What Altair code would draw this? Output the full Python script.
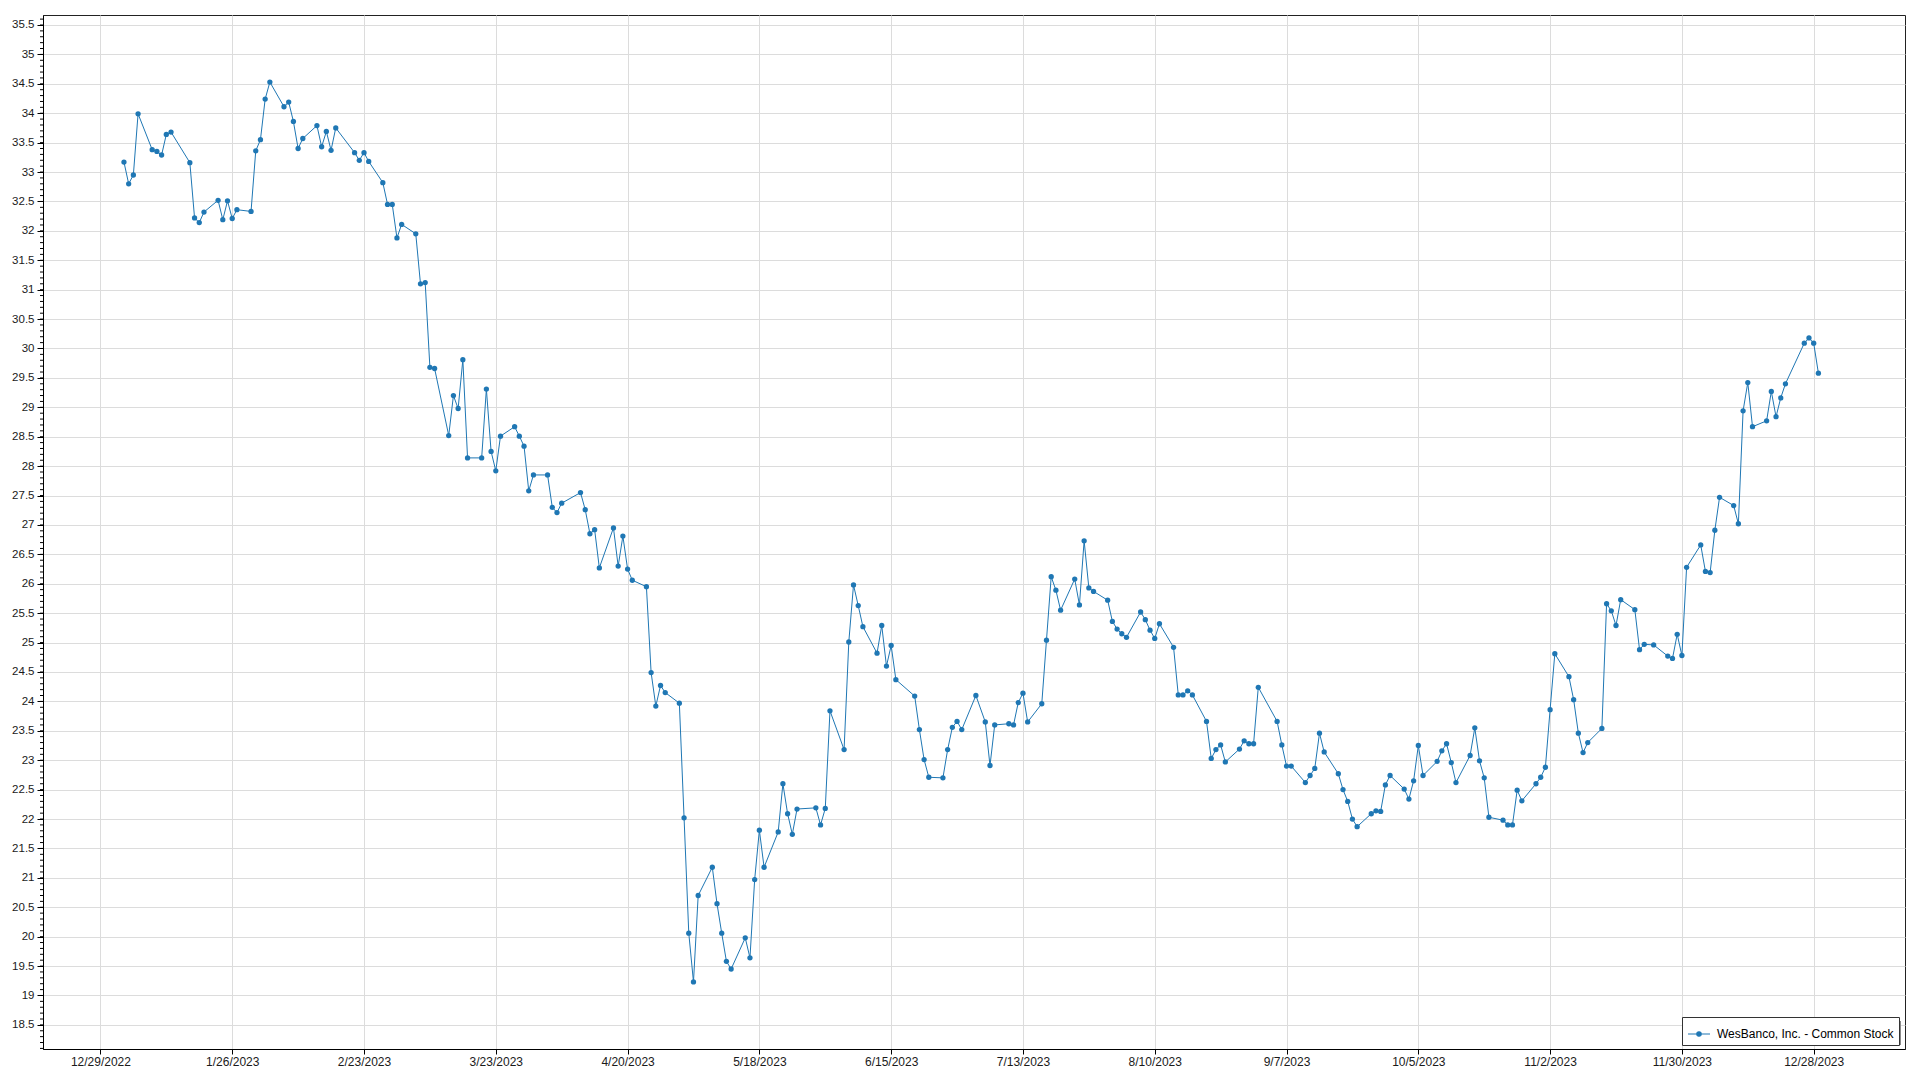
import altair as alt
import pandas as pd
import numpy as np

SERIES = "WesBanco, Inc. - Common Stock"
COLOR = "#1f77b4"
FONT = "Segoe UI, Liberation Sans, Arial, sans-serif"

# Exchange holidays (non-trading weekdays) in 2023
holidays = ["2023-01-02", "2023-01-16", "2023-02-20", "2023-04-07", "2023-05-29",
            "2023-06-19", "2023-07-04", "2023-09-04", "2023-11-23", "2023-12-25"]

# Closing prices per month (one value per trading day)
jan = [33.17, 32.80, 32.95, 33.99,
       33.38, 33.35, 33.29, 33.64, 33.68,
       33.16, 32.22, 32.14, 32.32,
       32.52, 32.19, 32.51, 32.21, 32.36,
       32.33, 33.36]
feb = [33.55, 34.24, 34.53,
       34.11, 34.19, 33.86, 33.40, 33.57,
       33.79, 33.43, 33.69, 33.37, 33.75,
       33.33, 33.20, 33.33, 33.18,
       32.82, 32.45]
mar = [32.45, 31.88, 32.11,
       31.95, 31.10, 31.12, 29.68, 29.66,
       28.52, 29.20, 28.98, 29.81, 28.14,
       28.14, 29.31, 28.25, 27.92, 28.51,
       28.67, 28.51, 28.34, 27.58, 27.85]
apr = [27.85, 27.30, 27.21, 27.37,
       27.55, 27.26, 26.85, 26.92, 26.27,
       26.95, 26.30, 26.81, 26.25, 26.06,
       25.95, 24.49, 23.92, 24.27, 24.15]
may = [23.97, 22.02, 20.06, 19.23, 20.70,
       21.18, 20.56, 20.06, 19.58, 19.45,
       19.98, 19.64, 20.97, 21.81, 21.18,
       21.78, 22.60, 22.09, 21.74, 22.17,
       22.19, 21.90]
jun = [22.18, 23.84,
       23.18, 25.01, 25.98, 25.63, 25.27,
       24.82, 25.29, 24.60, 24.95, 24.37,
       24.09, 23.52, 23.01, 22.71,
       22.70, 23.18, 23.56, 23.66, 23.52]
jul = [24.10,
       23.65, 22.91, 23.60,
       23.62, 23.60, 23.98, 24.14, 23.65,
       23.96, 25.04, 26.12, 25.89, 25.55,
       26.08, 25.64, 26.73, 25.93, 25.87,
       25.72]
aug = [25.36, 25.23, 25.15, 25.09,
       25.52, 25.39, 25.21, 25.07, 25.32,
       24.92, 24.11, 24.11, 24.18, 24.11,
       23.66, 23.03, 23.18, 23.26, 22.97,
       23.19, 23.33, 23.28, 23.28]
sep = [24.24,
       23.66, 23.26, 22.90, 22.90,
       22.62, 22.74, 22.86, 23.46, 23.14,
       22.77, 22.50, 22.30, 22.00, 21.87,
       22.09, 22.14, 22.13, 22.58, 22.74]
oct_ = [22.51, 22.34, 22.65, 23.25, 22.74,
        22.98, 23.16, 23.28, 22.96, 22.62,
        23.08, 23.55, 22.99, 22.70, 22.03,
        21.98, 21.90, 21.90, 22.49, 22.31,
        22.60, 22.71]
nov = [22.88, 23.86, 24.81,
       24.42, 24.03, 23.46, 23.13, 23.30,
       23.54, 25.66, 25.54, 25.29, 25.73,
       25.56, 24.88, 24.97,
       24.96,
       24.77, 24.73, 25.14, 24.78]
dec = [26.28,
       26.66, 26.21, 26.19, 26.91, 27.47,
       27.33, 27.02, 28.94, 29.42, 28.67,
       28.77, 29.27, 28.84, 29.16, 29.40,
       30.09, 30.18, 30.09, 29.58]

# Axis tick labels
x_ticks = ["2022-12-29", "2023-01-26", "2023-02-23", "2023-03-23", "2023-04-20",
           "2023-05-18", "2023-06-15", "2023-07-13", "2023-08-10", "2023-09-07",
           "2023-10-05", "2023-11-02", "2023-11-30", "2023-12-28"]
y_ticks = [18.5, 19, 19.5, 20, 20.5, 21, 21.5, 22, 22.5, 23, 23.5, 24, 24.5, 25,
           25.5, 26, 26.5, 27, 27.5, 28, 28.5, 29, 29.5, 30, 30.5, 31, 31.5, 32,
           32.5, 33, 33.5, 34, 34.5, 35, 35.5]

prices = jan + feb + mar + apr + may + jun + jul + aug + sep + oct_ + nov + dec
days = pd.bdate_range("2023-01-03", "2023-12-29")
days = days[~days.isin(pd.to_datetime(holidays))]
assert len(days) == len(prices), (len(days), len(prices))

df = pd.DataFrame({"date": days.strftime("%Y-%m-%d"), "price": prices, "series": SERIES})


def ms(ts):
    return int(pd.Timestamp(ts).value // 10**6)


t0 = pd.Timestamp("2022-12-29")
x_domain = [ms(t0 - pd.Timedelta(days=12.2)), ms(t0 + pd.Timedelta(days=383.4))]
y_domain = [18.09, 35.67]

x_scale = alt.Scale(type="utc", domain=x_domain, nice=False)
y_scale = alt.Scale(domain=y_domain, nice=False, zero=False)

x_axis = alt.Axis(values=[ms(d) for d in x_ticks],
                  labelExpr="utcFormat(datum.value, '%-m/%-d/%Y')",
                  title=None, grid=True, gridColor="#dcdcdc", gridWidth=1,
                  tickSize=5, tickColor="#000", domainColor="#000",
                  labelFont=FONT, labelFontSize=12, labelColor="#1a1a1a",
                  labelPadding=2, labelOverlap=False, labelFlush=False)
y_axis = alt.Axis(values=y_ticks, format="~g",
                  title=None, grid=True, gridColor="#dcdcdc", gridWidth=1,
                  tickSize=6, tickColor="#000", domainColor="#000",
                  labelFont=FONT, labelFontSize=11.5, labelColor="#1a1a1a",
                  labelPadding=3, labelOverlap=False, labelFlush=False)

base = alt.Chart(df)

line = base.mark_line(color=COLOR, strokeWidth=1).encode(
    x=alt.X("date:T", scale=x_scale, axis=x_axis),
    y=alt.Y("price:Q", scale=y_scale, axis=y_axis),
)

legend_path = ("M -1 0 L 1 0 M -0.2 0 A 0.2 0.2 0 1 0 0.2 0 "
               "A 0.2 0.2 0 1 0 -0.2 0 Z")
points = base.mark_point(filled=True, size=28, opacity=1).encode(
    x=alt.X("date:T", scale=x_scale, axis=x_axis),
    y=alt.Y("price:Q", scale=y_scale, axis=y_axis),
    color=alt.Color("series:N",
                    scale=alt.Scale(domain=[SERIES], range=[COLOR]),
                    legend=alt.Legend(title=None, orient="none",
                                      legendX=1639, legendY=1002,
                                      symbolType=legend_path, symbolSize=484,
                                      symbolStrokeWidth=1.2,
                                      symbolStrokeColor=COLOR,
                                      symbolFillColor=COLOR,
                                      fillColor="white", strokeColor="#333",
                                      padding=5, cornerRadius=0,
                                      labelLimit=400,
                                      labelFont=FONT, labelFontSize=12,
                                      labelColor="#000", labelOffset=6)),
)

# minor ticks on the y axis
minor_vals = [round(v, 1) for v in np.arange(18.1, 35.65, 0.1)]
minor = alt.Chart(pd.DataFrame({"m": minor_vals})).mark_rule(
    color="#000", strokeWidth=1).encode(
    y=alt.Y("m:Q", scale=y_scale, axis=y_axis),
    x=alt.value(-3), x2=alt.value(0),
)

# legend shadow
shadow = alt.Chart(alt.Data(values=[{"s": 1}])).mark_rect(color="#8a8a8a").encode(
    x=alt.value(1643), x2=alt.value(1858), y=alt.value(1006), y2=alt.value(1030),
)

chart = alt.layer(shadow, line, points, minor).properties(
    width=1862, height=1034,
    autosize=alt.AutoSizeParams(type="none"),
    padding={"left": 35, "top": 7, "right": 5, "bottom": 22},
    background="white",
).configure_view(stroke="#222", strokeWidth=1)

chart.save("out.html", embed_options={"renderer": "svg", "actions": False})
